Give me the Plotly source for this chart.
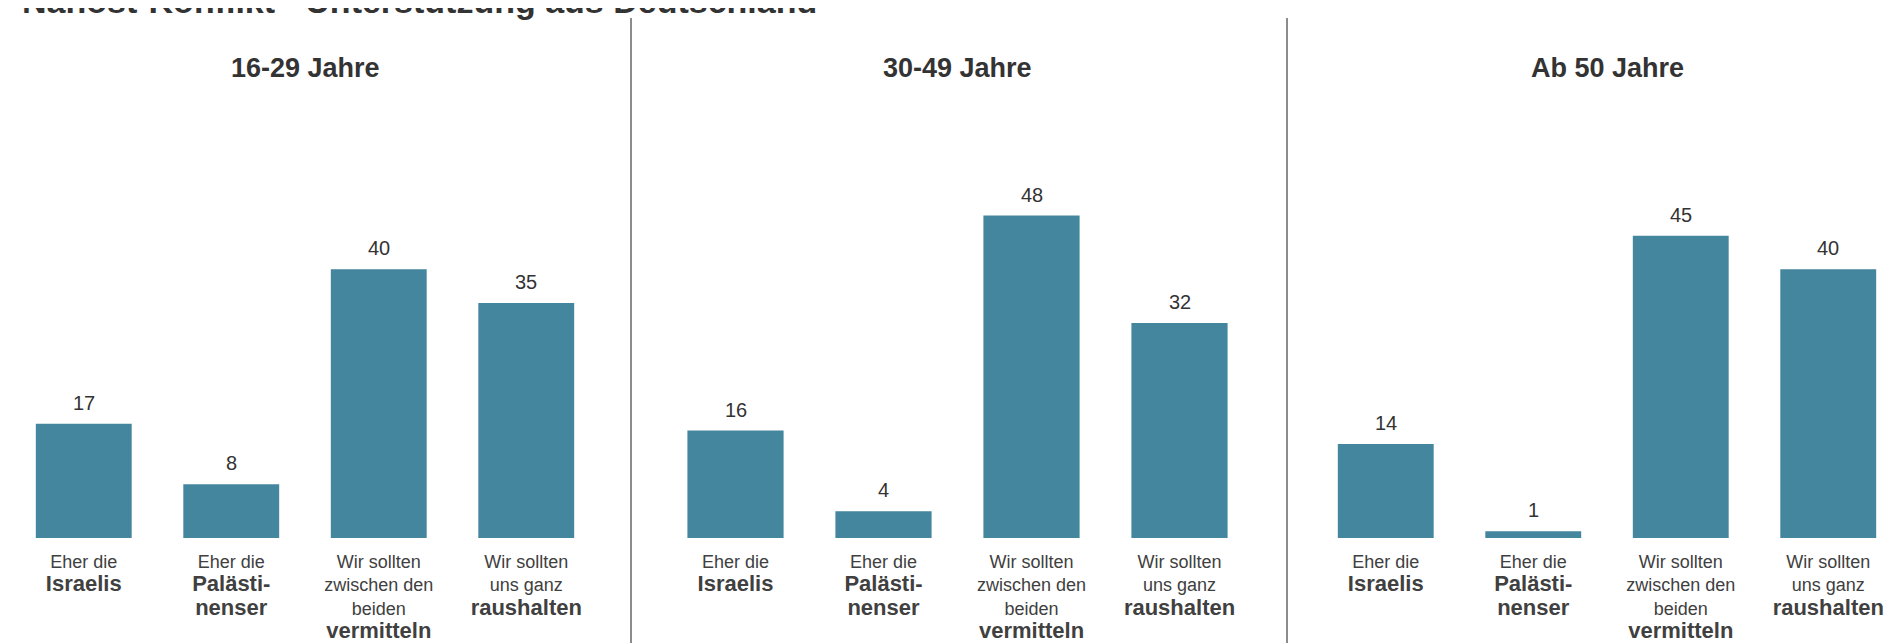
import plotly.graph_objects as go

# data
groups = ["16-29 Jahre", "30-49 Jahre", "Ab 50 Jahre"]
answers = ["Israelis", "Palaestinenser", "vermitteln", "raushalten"]
vals_1629 = [17, 8, 40, 35]
vals_3049 = [16, 4, 48, 32]
vals_50 = [14, 1, 45, 40]

big = "<span style='font-size:22px'><b>%s</b></span>"
tick_labels = [
    "Eher die<br>" + big % "Israelis",
    "Eher die<br>" + big % "Palästi-" + "<br>" + big % "nenser",
    "Wir sollten<br>zwischen den<br>beiden<br>" + big % "vermitteln",
    "Wir sollten<br>uns ganz<br>" + big % "raushalten",
]

W, H = 1901, 643
bar_col = "#44869D"
txt_col = "#333333"
font_fam = "Arial, Liberation Sans, sans-serif"

# panel domains in px
doms = [(2, 592), (653.5, 1245.5), (1304, 1894)]
all_vals = [vals_1629, vals_3049, vals_50]

fig = go.Figure()
for i, (vals, d) in enumerate(zip(all_vals, doms)):
    xa = "x" if i == 0 else "x%d" % (i + 1)
    ya = "y" if i == 0 else "y%d" % (i + 1)
    fig.add_trace(go.Bar(x=answers, y=vals, xaxis=xa, yaxis=ya,
                         marker=dict(color=bar_col, line=dict(width=0)),
                         width=0.65, showlegend=False, hoverinfo="skip"))
    for a, v in zip(answers, vals):
        fig.add_annotation(x=a, y=v, xref=xa, yref=ya, text=str(v),
                           showarrow=False, yanchor="bottom", yshift=8,
                           font=dict(size=20, color=txt_col))
    key = "" if i == 0 else str(i + 1)
    fig.layout["xaxis" + key] = dict(domain=[d[0] / W, d[1] / W], anchor=ya,
                                     tickmode="array", tickvals=answers, ticktext=tick_labels,
                                     showline=False, ticks="", showgrid=False,
                                     ticklabelstandoff=11,
                                     tickfont=dict(size=18, color="#404040"))
    fig.layout["yaxis" + key] = dict(domain=[0, 1], anchor=xa, range=[0, 78.9],
                                     visible=False, showgrid=False)
    fig.add_annotation(x=(d[0] + d[1]) / 2 / W, y=1, xref="paper", yref="paper",
                       xanchor="center", yanchor="middle", yshift=-60,
                       text="<b>%s</b>" % groups[i],
                       showarrow=False, font=dict(size=27, color=txt_col))

# separators between panels
for xp in [623, 1279]:
    fig.add_shape(type="line", xref="paper", yref="paper",
                  x0=xp / W, x1=xp / W, y0=1 - 10 / 530, y1=1 - 637 / 530,
                  line=dict(color="#8c8c8c", width=2))

# cut-off title at the very top
fig.add_annotation(x=12 / W, y=1, xref="paper", yref="paper", xanchor="left",
                   yanchor="bottom", yshift=-14, showarrow=False,
                   text="<b>Nahost-Konflikt - Unterstützung aus Deutschland</b>",
                   font=dict(size=34, color=txt_col))

fig.update_layout(width=W, height=H, margin=dict(l=0, r=0, t=0, b=113),
                  plot_bgcolor="white", paper_bgcolor="white",
                  font=dict(family=font_fam, color=txt_col))

fig.write_html("out.html")
